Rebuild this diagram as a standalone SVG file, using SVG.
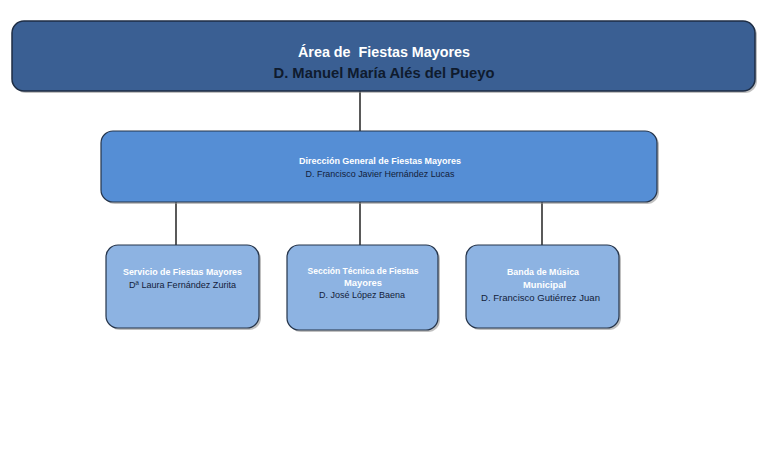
<svg xmlns="http://www.w3.org/2000/svg" width="768" height="465" viewBox="0 0 768 465">
<defs>
<style>
.shadow{fill:#8c8c8c;opacity:0.55}
.top{fill:#3A5F93;stroke:#1E2D44;stroke-width:1.5}
.mid{fill:#558ED5;stroke:#25344A;stroke-width:1.2}
.low{fill:#8DB3E2;stroke:#25344A;stroke-width:1.2}
.conn{stroke:#000;stroke-width:1.3;fill:none}
text{font-family:"Liberation Sans",Arial,sans-serif;text-anchor:middle}
.t1{font-size:15.5px;font-weight:bold;fill:#fff;white-space:pre}
.t2{font-size:15.5px;font-weight:bold;fill:#0F1B2E}
.m1{font-size:9px;font-weight:bold;fill:#fff}
.m2{font-size:9px;fill:#13213A}
.b1{font-size:9.5px;font-weight:bold;fill:#fff}
.b2{font-size:9.5px;fill:#13213A}
</style>
</defs>
<rect width="768" height="465" fill="#fff"/>
<g id="connectors">
<line class="conn" x1="360" y1="91" x2="360" y2="131"/>
<line class="conn" x1="176" y1="202" x2="176" y2="245"/>
<line class="conn" x1="360" y1="202" x2="360" y2="245"/>
<line class="conn" x1="542" y1="202" x2="542" y2="245"/>
</g>
<g id="area">
<rect class="shadow" x="14" y="23" width="743" height="70" rx="12"/>
<rect class="top" x="12" y="21" width="743" height="70" rx="12"/>
<text class="t1" x="384" y="57" textLength="172" lengthAdjust="spacingAndGlyphs" xml:space="preserve">Área de  Fiestas Mayores</text>
<text class="t2" x="384" y="77.5" textLength="221" lengthAdjust="spacingAndGlyphs">D. Manuel María Alés del Pueyo</text>
</g>
<g id="direccion">
<rect class="shadow" x="103" y="133" width="556" height="71" rx="12"/>
<rect class="mid" x="101" y="131" width="556" height="71" rx="12"/>
<text class="m1" x="380" y="164" textLength="162" lengthAdjust="spacingAndGlyphs">Dirección General de Fiestas Mayores</text>
<text class="m2" x="380" y="176.5" textLength="149" lengthAdjust="spacingAndGlyphs">D. Francisco Javier Hernández Lucas</text>
</g>
<g id="servicio">
<rect class="shadow" x="108" y="247" width="153" height="83" rx="12"/>
<rect class="low" x="106" y="245" width="153" height="83" rx="12"/>
<text class="b1" x="182.5" y="275" textLength="119" lengthAdjust="spacingAndGlyphs">Servicio de Fiestas Mayores</text>
<text class="b2" x="182.5" y="287.5" textLength="107" lengthAdjust="spacingAndGlyphs">Dª Laura Fernández Zurita</text>
</g>
<g id="seccion">
<rect class="shadow" x="289" y="247" width="151" height="85" rx="12"/>
<rect class="low" x="287" y="245" width="151" height="85" rx="12"/>
<text class="b1" x="363" y="274" textLength="111" lengthAdjust="spacingAndGlyphs">Sección Técnica de Fiestas</text>
<text class="b1" x="363" y="286" textLength="38" lengthAdjust="spacingAndGlyphs">Mayores</text>
<text class="b2" x="362" y="298" textLength="86" lengthAdjust="spacingAndGlyphs">D. José López Baena</text>
</g>
<g id="banda">
<rect class="shadow" x="468" y="247" width="153" height="83" rx="12"/>
<rect class="low" x="466" y="245" width="153" height="83" rx="12"/>
<text class="b1" x="543" y="274.5" textLength="72" lengthAdjust="spacingAndGlyphs">Banda de Música</text>
<text class="b1" x="544.5" y="287.5" textLength="43" lengthAdjust="spacingAndGlyphs">Municipal</text>
<text class="b2" x="540.5" y="300.5" textLength="119" lengthAdjust="spacingAndGlyphs">D. Francisco Gutiérrez Juan</text>
</g>
</svg>
